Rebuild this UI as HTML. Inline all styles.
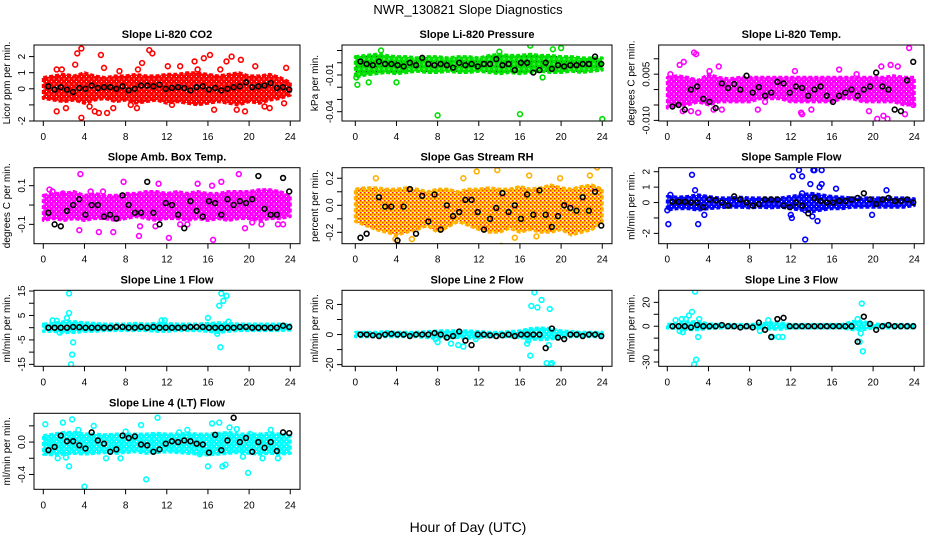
<!DOCTYPE html>
<html><head><meta charset="utf-8"><style>
body{margin:0;background:#fff;}
svg{display:block;font-family:"Liberation Sans",sans-serif;}
</style></head><body>
<svg id="chart" width="936" height="540" viewBox="0 0 936 540" xmlns="http://www.w3.org/2000/svg">
<defs id="defs">
<pattern id="rhpat" width="4" height="4" patternUnits="userSpaceOnUse"><rect width="4" height="4" fill="#ffd700"/><rect x="0" y="0" width="1.5" height="1.5" fill="#ff2000"/><rect x="2" y="2" width="1.5" height="1.5" fill="#ff3000"/><rect x="2" y="0" width="1" height="1" fill="#fff"/></pattern>
</defs>
<text x="468" y="14" font-size="13" text-anchor="middle">NWR_130821  Slope Diagnostics</text>
<text x="468" y="532" font-size="14" text-anchor="middle">Hour of Day (UTC)</text>
</svg>
<script>
const blackHours=[0.5,1.1,1.7,2.3,2.9,3.5,4.1,4.7,5.3,5.9,6.5,7.1,7.7,8.3,8.9,9.5,10.1,10.7,11.3,11.9,12.5,13.1,13.7,14.3,14.9,15.5,16.1,16.7,17.3,17.9,18.5,19.1,19.7,20.3,20.9,21.5,22.1,22.7,23.3,23.9];
const bandHours=[0,1,2,3,4,5,6,7,8,9,10,11,12,13,14,15,16,17,18,19,20,21,22,23,24];
const xTicks=[0,4,8,12,16,20,24];

const co2Lo=[-0.6,-0.7,-0.8,-0.7,-0.9,-0.7,-0.6,-0.8,-0.7,-0.9,-0.8,-0.7,-0.9,-0.8,-0.9,-1.0,-0.9,-0.8,-0.9,-1.0,-0.8,-0.9,-0.7,-0.6,-0.4];
const co2Hi=[0.7,0.8,0.9,0.8,1.0,0.8,0.7,0.8,0.8,0.9,0.8,0.8,0.9,0.9,1.0,1.0,0.9,0.8,0.9,1.0,0.8,0.8,0.9,0.7,0.4];
const co2Out=[[1.3,1.2],[1.3,-1.4],[1.8,1.2],[2.2,-1.2],[3.1,1.5],[3.3,2.2],[3.7,2.5],[3.7,-1.8],[4.5,-1.1],[5.0,-1.4],[5.6,2.1],[5.9,1.3],[6.2,-1.5],[5.4,-1.5],[6.8,-1.2],[7.4,1.1],[8.5,-1.0],[9.2,1.2],[9.6,1.6],[10.3,2.4],[10.6,2.2],[9.1,-1.2],[12.1,1.4],[13.3,1.4],[12.5,-1.0],[14.7,1.7],[15.0,1.2],[15.6,1.9],[16.2,2.1],[17.2,1.2],[17.8,1.7],[16.6,-1.3],[18.3,2.0],[18.8,-1.3],[19.2,1.8],[19.6,-1.4],[20.6,1.4],[21.5,-1.1],[22.0,-1.2],[23.6,1.3],[23.4,-0.9]];
const co2Black=[0.15,-0.05,0.1,-0.05,-0.2,0.05,0.0,0.2,0.05,0.1,0.1,0.0,0.15,-0.1,0.0,0.2,0.2,0.15,0.25,0.0,0.05,0.1,0.05,-0.1,0.1,0.15,-0.05,0.05,-0.1,0.0,0.1,0.15,0.4,0.1,0.15,0.2,0.35,0.05,0.1,-0.05];

const presLo=[-0.012,-0.01,-0.009,-0.008,-0.009,-0.008,-0.007,-0.008,-0.008,-0.007,-0.008,-0.008,-0.007,-0.008,-0.009,-0.008,-0.009,-0.008,-0.007,-0.008,-0.008,-0.007,-0.008,-0.007,-0.006];
const presHi=[0.005,0.006,0.007,0.006,0.005,0.005,0.004,0.005,0.005,0.004,0.005,0.005,0.004,0.006,0.007,0.006,0.006,0.007,0.006,0.006,0.005,0.005,0.004,0.004,0.004];
const presOut=[[0.2,-0.018],[0.1,-0.012],[1.3,-0.016],[4.0,-0.016],[8.0,-0.043],[16.0,-0.042],[24.0,-0.046],[2.5,0.010],[17,0.014],[19.2,0.011],[18.2,-0.012],[14.0,0.009],[20,0.012]];
const presBlack=[0.001,-0.001,-0.002,0.001,-0.001,-0.001,-0.002,-0.003,0.0,-0.002,0.004,-0.001,-0.002,-0.001,-0.002,-0.004,0.0,-0.002,-0.001,-0.003,-0.001,-0.001,0.003,-0.002,-0.001,-0.006,0.0,0.0,-0.008,-0.006,0.0,-0.005,-0.002,-0.003,-0.002,-0.002,-0.001,-0.001,0.005,-0.001];

const tempLo=[-0.006,-0.005,-0.005,-0.004,-0.005,-0.004,-0.004,-0.004,-0.004,-0.003,-0.003,-0.003,-0.004,-0.004,-0.004,-0.004,-0.004,-0.003,-0.003,-0.004,-0.004,-0.004,-0.004,-0.005,-0.005];
const tempHi=[0.004,0.0045,0.004,0.003,0.005,0.004,0.0035,0.004,0.004,0.004,0.004,0.004,0.004,0.004,0.004,0.004,0.004,0.004,0.004,0.004,0.004,0.004,0.0045,0.004,0.004];
const tempOut=[[0.3,0.005],[1.2,0.008],[1.6,0.009],[2.6,0.012],[2.8,0.0115],[1.5,-0.007],[2.3,-0.007],[3.0,-0.0075],[4.1,0.006],[5.0,0.0075],[4.5,-0.0065],[5.3,-0.0065],[8.8,-0.0065],[13.0,-0.0075],[13.1,-0.008],[14.0,-0.0065],[12.4,0.006],[16.7,0.0065],[19.6,-0.007],[20.4,-0.0095],[21.0,-0.0085],[21.4,-0.0095],[20.8,0.0075],[21.7,0.008],[22.4,0.0075],[23.1,-0.008],[23.5,0.0135],[23.9,-0.005],[18.4,0.005],[9.5,-0.004]];
const tempBlack=[-0.0055,-0.005,-0.0065,0.0,0.001,-0.003,-0.004,-0.006,0.002,0.0005,0.0018,0.0,0.0045,-0.001,0.0008,-0.002,-0.001,0.0025,0.002,-0.001,0.001,0.0005,-0.002,0.0,0.001,-0.002,-0.004,-0.002,-0.001,0.0,-0.002,0.0,0.001,0.0055,0.001,0.0,-0.0065,-0.007,0.003,0.009];

const ambLo=[-0.08,-0.07,-0.08,-0.07,-0.08,-0.07,-0.07,-0.08,-0.07,-0.06,-0.07,-0.08,-0.07,-0.07,-0.08,-0.07,-0.08,-0.07,-0.08,-0.07,-0.07,-0.08,-0.07,-0.07,-0.06];
const ambHi=[0.05,0.06,0.06,0.07,0.05,0.06,0.05,0.05,0.06,0.06,0.07,0.07,0.06,0.07,0.06,0.07,0.06,0.06,0.07,0.07,0.07,0.08,0.08,0.07,0.05];
const ambOut=[[0.6,0.08],[0.9,0.07],[1.9,0.06],[3.5,-0.13],[3.6,0.16],[4.6,0.07],[5.4,-0.14],[6.8,-0.14],[7.8,0.12],[9.3,-0.16],[9.4,-0.11],[10.9,-0.11],[11.2,0.11],[12.2,-0.17],[13.3,-0.1],[14.0,-0.1],[16.5,-0.18],[16.4,0.1],[17.3,0.12],[19.0,0.16],[19.6,-0.12],[20.3,-0.09],[21.2,-0.1],[22.8,-0.1],[23.3,-0.1],[5.8,0.07],[15.0,0.11]];
const ambBlack=[-0.04,-0.1,-0.11,-0.03,0.0,0.03,-0.05,0.0,0.0,-0.06,-0.05,-0.07,0.05,0.0,-0.04,-0.04,0.12,-0.04,-0.1,0.01,0.0,-0.05,-0.12,0.02,-0.03,-0.06,0.02,0.01,-0.05,0.03,0.0,0.02,0.01,0.03,0.15,-0.02,-0.05,-0.05,0.14,0.07];

const rhLo=[-0.12,-0.15,-0.18,-0.2,-0.22,-0.2,-0.18,-0.15,-0.2,-0.16,-0.12,-0.15,-0.18,-0.2,-0.2,-0.17,-0.2,-0.18,-0.2,-0.2,-0.18,-0.22,-0.2,-0.18,-0.12];
const rhHi=[0.12,0.13,0.13,0.12,0.12,0.13,0.12,0.1,0.12,0.12,0.1,0.12,0.12,0.13,0.12,0.12,0.14,0.12,0.13,0.15,0.13,0.12,0.14,0.15,0.12];
const rhOut=[[2.1,0.3],[2.0,0.2],[3.9,-0.25],[4.2,-0.3],[10.5,0.2],[11.8,0.25],[14.2,-0.3],[13.8,0.26],[15.5,-0.24],[16.9,0.22],[19.9,0.2],[22.8,0.22],[23.5,0.28],[17.6,-0.23],[5.5,-0.25]];
const rhBlack=[-0.24,-0.21,-0.33,0.06,-0.01,-0.01,-0.26,-0.01,0.12,-0.21,0.07,-0.12,0.08,-0.18,0.0,-0.08,-0.05,0.04,0.04,-0.05,-0.18,-0.1,-0.02,0.09,-0.05,0.0,-0.1,0.08,-0.07,0.11,-0.07,-0.16,-0.08,0.0,-0.02,-0.04,0.06,-0.04,0.1,-0.15];

const flowLo=[-0.5,-0.4,-0.4,-0.5,-0.4,-0.35,-0.3,-0.3,-0.35,-0.3,-0.35,-0.3,-0.4,-0.5,-0.6,-0.5,-0.4,-0.4,-0.3,-0.3,-0.3,-0.3,-0.3,-0.3,-0.2];
const flowHi=[0.4,0.35,0.4,0.5,0.4,0.3,0.3,0.35,0.3,0.3,0.3,0.3,0.4,0.5,0.6,0.5,0.4,0.35,0.3,0.3,0.3,0.3,0.3,0.3,0.25];
const flowOut=[[0.1,-1.4],[0.0,-0.5],[0.3,0.5],[2.4,1.8],[2.7,0.8],[3.0,-1.4],[3.6,-0.8],[12.0,-0.8],[12.1,-1.0],[12.2,1.7],[12.8,2.1],[13.1,1.7],[13.4,-2.4],[14.2,2.1],[14.3,2.1],[15.0,2.1],[13.9,1.2],[14.8,1.0],[15.0,1.2],[14.1,-0.9],[14.6,-1.2],[21.3,0.8],[19.9,-0.8],[16.4,0.9],[13.4,-0.5],[13.1,0.6]];
const flowBlack=[0.05,0.05,0.05,0.0,0.0,-0.3,0.2,0.15,0.0,-0.2,0.4,0.2,0.0,-0.2,-0.1,0.2,0.2,0.2,-0.2,-0.3,0.0,-0.2,-0.7,0.3,0.1,0.0,0.0,0.1,0.1,0.2,0.3,0.6,0.2,-0.1,0.2,0.3,0.1,0.1,0.2,0.0];

const l1Lo=[-1.5,-1.5,-2,-2,-1.5,-1.5,-1.2,-1.2,-1.2,-1.2,-1.2,-1.5,-1.5,-1.2,-1.2,-1.2,-1.5,-2,-1.5,-1.2,-1.2,-1.2,-1.2,-1.2,-1.0];
const l1Hi=[1.5,1.8,2.5,2.5,2,1.8,1.5,1.5,1.5,1.8,1.5,1.8,1.8,1.5,1.5,1.5,1.8,2,1.8,1.5,1.5,1.5,1.5,1.5,1.2];
const l1Out=[[2.5,14],[2.5,6],[2.3,4],[2.7,-15],[2.8,-11],[2.9,-6],[0.9,3],[1.3,2.8],[17.3,14],[17.5,11],[17.8,13],[17.1,9],[17.2,-8],[16,4],[11.5,3],[11.8,3],[1.6,-2],[16.9,-2.5],[18.0,2.5]];
const l1Black=[0,0,0,0,0.3,0.2,0,0,0,0,0,0.3,0.3,0,0,0.3,0,0.3,0,0,0,0,0,0.3,0.3,0.3,0,0,0,0,0,0.3,0.3,0,0,0,0,0,0.8,0.3];

const l2Lo=[-1.5,-1.5,-1.5,-1.5,-1.5,-1.5,-1.5,-2,-2.5,-2,-2,-2.5,-2,-1.5,-1.5,-1.5,-2,-3,-3.5,-3,-2,-1.5,-1.5,-1.5,-1.5];
const l2Hi=[1.5,1.5,1.5,2,1.5,1.5,1.5,2,2.5,2.5,2.5,2.5,2,1.5,1.5,2,2.5,4,4.5,4,2.5,2,1.5,1.5,1.5];
const l2Out=[[7.8,-3],[8.0,-5],[9.3,-6],[10.0,-7],[10.5,-8],[11.7,-3],[11.9,0.5],[17.0,-14],[16.8,-4],[16.7,-6],[17.1,19],[17.4,28],[17.7,18],[18.1,23],[18.9,17],[18.8,-7],[18.6,-19],[19.0,-20],[19.1,-19]];
const l2Black=[0,0,-0.5,-1,0,0.5,0,0,-1,0,0,0,1,0,-2,-1,2,-4,-7,0,0,-0.5,-1,-0.5,0,-1,0,0,0,0,-9,4,-2,-3,0,0,-1,0,0,-1];

const l3Lo=[-1.5,-2,-3,-3,-2,-1.5,-1.5,-1.5,-1.5,-1.5,-2.5,-2.5,-1.5,-1.5,-1.5,-1.5,-1.5,-1.5,-3,-3,-1.5,-1.5,-1.5,-1.5,-1.5];
const l3Hi=[1.5,2,3.5,4,2,1.5,1.5,1.5,1.5,2,3,3,1.5,1.5,1.5,1.5,1.5,1.5,4,4,2,1.5,1.5,1.5,1.5];
const l3Out=[[1.5,-5],[1.2,-4],[0.8,5],[1.4,6],[1.8,6],[2.1,9],[2.4,12],[2.7,29],[2.6,-32],[2.8,-28],[3.0,-9],[3.1,6],[9.0,-4],[10.2,-9],[10.8,-9],[11.2,-9],[9.8,5],[18.5,6],[18.7,-13],[18.9,19],[18.8,-6],[19.0,-21]];
const l3Black=[0,0,0,-1,1,0,0,0,1,0,0,-1,0,-1,3,-3,-9,6,7,0,0,0,0,0,0,0,0,0,0,0,-13,8,2,-3,0,1,0,0,0,0];

const l4Lo=[-0.15,-0.16,-0.15,-0.14,-0.15,-0.14,-0.13,-0.14,-0.13,-0.12,-0.14,-0.13,-0.12,-0.13,-0.14,-0.15,-0.16,-0.15,-0.14,-0.13,-0.14,-0.15,-0.14,-0.15,-0.14];
const l4Hi=[0.08,0.1,0.12,0.12,0.1,0.1,0.09,0.1,0.1,0.1,0.1,0.11,0.1,0.1,0.11,0.1,0.1,0.11,0.12,0.1,0.1,0.1,0.11,0.1,0.08];
const l4Out=[[0.2,0.22],[0.6,0.0],[1.4,-0.2],[1.9,0.24],[2.2,-0.19],[2.5,-0.3],[2.8,0.28],[3.4,0.15],[4.0,-0.55],[4.9,0.2],[6.1,-0.2],[7.5,-0.2],[8.0,0.13],[9.5,0.21],[10.0,-0.46],[11.1,0.3],[13.2,0.12],[14.0,0.15],[15.2,-0.15],[16.0,-0.3],[16.4,0.23],[17.1,0.24],[17.4,-0.3],[17.7,-0.28],[18.1,0.18],[18.8,0.16],[19.9,-0.38],[19.4,-0.18],[20.1,0.1],[21.3,-0.2],[22.1,0.15],[22.8,-0.2]];
const l4Black=[-0.1,-0.06,0.08,0.01,0.01,-0.04,-0.08,0.12,0.02,-0.02,-0.12,-0.09,0.08,0.05,0.07,-0.03,-0.04,-0.12,-0.09,-0.02,0.01,0.0,0.02,0.01,-0.02,-0.03,-0.13,0.09,-0.1,0.02,0.3,0.0,0.05,-0.12,0.0,-0.07,0.0,-0.11,0.12,0.11];

const NS='http://www.w3.org/2000/svg';
const svg=document.getElementById('chart');
const defs=document.getElementById('defs');
function el(tag,attrs,parent,txt){const e=document.createElementNS(NS,tag);for(const k in attrs)e.setAttribute(k,attrs[k]);if(txt!==undefined)e.textContent=txt;(parent||svg).appendChild(e);return e;}

const colBox=[[34,300],[342,612],[658.7,924]];
const colX0=[43.3,355.3,667.3];
const rowTop=[45,167.7,290.3,413.3];
const boxH=76;

const panels=[
 {name:'co2',title:'Slope Li-820 CO2',ylab:'Licor ppm per min.',c:0,r:0,ymin:-2.0,ymax:2.72,ticks:[-2,-1,0,1,2],labels:[[-2,'-2'],[0,'0'],[1,'1'],[2,'2']],color:'#ff0000',lo:co2Lo,hi:co2Hi,out:co2Out,blk:co2Black},
 {name:'pressure',title:'Slope Li-820 Pressure',ylab:'kPa per min.',c:1,r:0,ymin:-0.0476,ymax:0.0145,ticks:[0.01,0,-0.01,-0.02,-0.03,-0.04],labels:[[-0.01,'-0.01'],[-0.04,'-0.04']],color:'#00e000',dot:'#006000',lo:presLo,hi:presHi,out:presOut,blk:presBlack},
 {name:'li820-temp',title:'Slope Li-820 Temp.',ylab:'degrees C per min.',c:2,r:0,ymin:-0.0102,ymax:0.01447,ticks:[0.01,0.005,0,-0.005,-0.01],labels:[[0.005,'0.005'],[-0.01,'-0.010']],color:'#ff00ff',lo:tempLo,hi:tempHi,out:tempOut,blk:tempBlack},
 {name:'amb-box-temp',title:'Slope Amb. Box Temp.',ylab:'degrees C per min.',c:0,r:1,ymin:-0.2,ymax:0.193,ticks:[0.1,0,-0.1],labels:[[0.1,'0.1'],[-0.1,'-0.1']],color:'#ff00ff',lo:ambLo,hi:ambHi,out:ambOut,blk:ambBlack},
 {name:'gas-stream-rh',title:'Slope Gas Stream RH',ylab:'percent per min.',c:1,r:1,ymin:-0.284,ymax:0.278,ticks:[0.2,0.1,0,-0.1,-0.2],labels:[[0.2,'0.2'],[0,'0.0'],[-0.2,'-0.2']],color:'#ffb000',fill:'url(#rhpat)',lo:rhLo,hi:rhHi,out:rhOut,blk:rhBlack},
 {name:'sample-flow',title:'Slope Sample Flow',ylab:'ml/min per min.',c:2,r:1,ymin:-2.67,ymax:2.26,ticks:[-2,-1,0,1,2],labels:[[-2,'-2'],[0,'0'],[1,'1'],[2,'2']],color:'#0000ff',lo:flowLo,hi:flowHi,out:flowOut,blk:flowBlack},
 {name:'line1-flow',title:'Slope Line 1 Flow',ylab:'ml/min per min.',c:0,r:2,ymin:-15.8,ymax:15.3,ticks:[-15,-10,-5,0,5,10,15],labels:[[-15,'-15'],[-5,'-5'],[5,'5'],[15,'15']],color:'#00ffff',lo:l1Lo,hi:l1Hi,out:l1Out,blk:l1Black},
 {name:'line2-flow',title:'Slope Line 2 Flow',ylab:'ml/min per min.',c:1,r:2,ymin:-21.1,ymax:29.4,ticks:[-20,-10,0,10,20],labels:[[-20,'-20'],[0,'0'],[20,'20']],color:'#00ffff',lo:l2Lo,hi:l2Hi,out:l2Out,blk:l2Black},
 {name:'line3-flow',title:'Slope Line 3 Flow',ylab:'ml/min per min.',c:2,r:2,ymin:-33.6,ymax:30.1,ticks:[-30,-20,-10,0,10,20],labels:[[-30,'-30'],[0,'0'],[20,'20']],color:'#00ffff',lo:l3Lo,hi:l3Hi,out:l3Out,blk:l3Black},
 {name:'line4-flow',title:'Slope Line 4 (LT) Flow',ylab:'ml/min per min.',c:0,r:3,ymin:-0.583,ymax:0.355,ticks:[0.2,0,-0.2,-0.4],labels:[[0,'0.0'],[-0.4,'-0.4']],color:'#00ffff',lo:l4Lo,hi:l4Hi,out:l4Out,blk:l4Black}
];

panels.forEach(p=>{
 const L=colBox[p.c][0],R=colBox[p.c][1],T=rowTop[p.r],B=T+boxH;
 const xs=h=>colX0[p.c]+h*10.29;
 const ys=v=>B-(v-p.ymin)/(p.ymax-p.ymin)*boxH;
 let fill=p.fill;
 if(!fill){
  const pid='pat-'+p.name;
  const pat=el('pattern',{id:pid,width:5,height:5,patternUnits:'userSpaceOnUse'},defs);
  el('rect',{width:5,height:5,fill:p.color},pat);
  el('rect',{x:1,y:1,width:1,height:1,fill:p.dot||'#fff'},pat);
  el('rect',{x:3.5,y:3.5,width:1,height:1,fill:'#fff'},pat);
  fill='url(#'+pid+')';
 }
 const g=el('g',{});
 
 
 const clipId='clip-'+p.name;
 const cp=el('clipPath',{id:clipId},g);el('rect',{x:L,y:T,width:R-L,height:boxH},cp);
 const plot=el('g',{'clip-path':'url(#'+clipId+')'},g);
 let d='';
 bandHours.forEach((h,i)=>{d+=(i?'L':'M')+xs(h).toFixed(1)+','+ys(p.hi[i]).toFixed(1);});
 for(let i=bandHours.length-1;i>=0;i--)d+='L'+xs(bandHours[i]).toFixed(1)+','+ys(p.lo[i]).toFixed(1);
 const band=el('path',{d:d+'Z',fill:fill,stroke:p.color,'stroke-width':3,'stroke-linejoin':'round','stroke-dasharray':'4 2'},plot);
 
 
 p.out.forEach(o=>{
  const c=el('circle',{cx:xs(o[0]),cy:ys(o[1]),r:2.4,fill:'none',stroke:p.color,'stroke-width':1.6},plot);
  
  
 });
 p.blk.forEach((v,i)=>{
  const c=el('circle',{cx:xs(blackHours[i]),cy:ys(v),r:2.4,fill:'none',stroke:'#000','stroke-width':1.6},plot);
  
  
 });
 const fr=el('rect',{x:L,y:T,width:R-L,height:boxH,fill:'none',stroke:'#000','stroke-width':1},g);
 
 
 const tt=el('text',{x:(L+R)/2,y:T-7,'font-size':11,'font-weight':'bold','text-anchor':'middle'},g,p.title);
 
 
 xTicks.forEach(h=>{
  el('line',{x1:xs(h),x2:xs(h),y1:B,y2:B+5,stroke:'#000'},g);
  const t=el('text',{x:xs(h),y:B+19,'font-size':10,'text-anchor':'middle'},g,String(h));
  
  
 });
 p.ticks.forEach(v=>{const y=ys(v);if(y>=T-1&&y<=B+1)el('line',{x1:L-5,x2:L,y1:y,y2:y,stroke:'#000'},g);});
 p.labels.forEach(lb=>{
  const y=ys(lb[0]);const x=L-9;
  const t=el('text',{x:x,y:y,'font-size':10,'text-anchor':'middle',transform:'rotate(-90 '+x+' '+y+')'},g,lb[1]);
  
  
 });
 const yx=L-24,yy=(T+B)/2;
 const yl=el('text',{x:yx,y:yy,'font-size':10,'text-anchor':'middle',transform:'rotate(-90 '+yx+' '+yy+')'},g,p.ylab);
 
 
});
</script>
</body></html>
